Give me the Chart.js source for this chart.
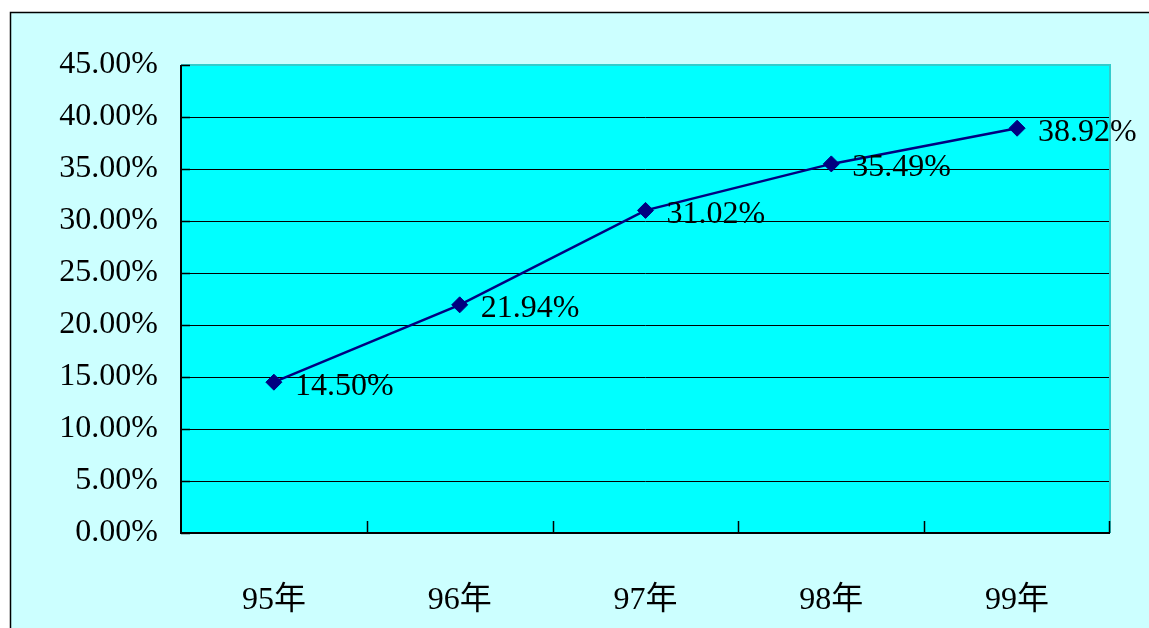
<!DOCTYPE html>
<html>
<head>
<meta charset="utf-8">
<script src="https://cdn.jsdelivr.net/npm/chart.js@4"></script>
<style>
  html, body { margin: 0; padding: 0; background: #ffffff; }
  #wrap { width: 1149px; height: 628px; position: relative; }
</style>
</head>
<body>
<div id="wrap"><canvas id="c" width="1149" height="628"></canvas></div>
<script>
// Years and the share reached in each year (percent)
const years = ['95年', '96年', '97年', '98年', '99年'];
const shares = [14.50, 21.94, 31.02, 35.49, 38.92];
const yTicks = [0, 5, 10, 15, 20, 25, 30, 35, 40, 45];

const FONT = "'Liberation Serif', 'Noto Sans CJK SC', serif";
const FONT_SIZE = 32;
const pct = v => Number(v).toFixed(2) + '%';

// Outer panel with its frame, drawn behind everything
const panelBg = {
  id: 'panelBg',
  beforeDraw(chart) {
    const ctx = chart.ctx;
    ctx.save();
    ctx.fillStyle = '#ffffff';
    ctx.fillRect(0, 0, chart.width, chart.height);
    ctx.fillStyle = '#ccffff';
    ctx.fillRect(10, 12, chart.width, chart.height);
    ctx.strokeStyle = '#000000';
    ctx.lineWidth = 1.5;
    ctx.beginPath();
    ctx.moveTo(10.5, chart.height + 2);
    ctx.lineTo(10.5, 12.5);
    ctx.lineTo(chart.width + 2, 12.5);
    ctx.stroke();
    const a = chart.chartArea;
    ctx.fillStyle = '#00ffff';
    ctx.fillRect(a.left, a.top, a.right - a.left, a.bottom - a.top);
    ctx.restore();
  }
};

// Top/right plot frame, inner tick marks on both axes, and value labels
const overlay = {
  id: 'overlay',
  beforeDatasetsDraw(chart) {
    const ctx = chart.ctx;
    const a = chart.chartArea;
    ctx.save();
    ctx.strokeStyle = '#33cccc';
    ctx.lineWidth = 2;
    ctx.beginPath();
    ctx.moveTo(a.left, a.top);
    ctx.lineTo(a.right, a.top);
    ctx.lineTo(a.right, a.bottom);
    ctx.stroke();

    ctx.strokeStyle = '#000000';
    ctx.lineWidth = 2;
    ctx.beginPath();
    ctx.moveTo(a.left, a.top);
    ctx.lineTo(a.left, a.bottom);
    ctx.lineTo(a.right, a.bottom);
    ctx.stroke();

    // inner tick marks on the category axis, at category boundaries
    const xs = chart.scales.x;
    ctx.lineWidth = 1.5;
    ctx.beginPath();
    for (let i = 1; i < years.length; i++) {
      const px = Math.round((xs.getPixelForValue(i - 1) + xs.getPixelForValue(i)) / 2) + 0.5;
      ctx.moveTo(px, a.bottom);
      ctx.lineTo(px, a.bottom - 12);
    }
    ctx.moveTo(a.right - 0.5, a.bottom);
    ctx.lineTo(a.right - 0.5, a.bottom - 12);
    // inner tick marks on the value axis
    const ys = chart.scales.y;
    yTicks.forEach(v => {
      const py = Math.round(ys.getPixelForValue(v)) + 0.5;
      ctx.moveTo(a.left, py);
      ctx.lineTo(a.left + 9, py);
    });
    ctx.stroke();
    ctx.restore();
  },
  afterDatasetsDraw(chart) {
    const ctx = chart.ctx;
    // value labels to the right of each point
    const meta = chart.getDatasetMeta(0);
    ctx.save();
    ctx.fillStyle = '#000000';
    ctx.font = FONT_SIZE + 'px ' + FONT;
    ctx.textAlign = 'left';
    ctx.textBaseline = 'middle';
    meta.data.forEach((pt, i) => {
      ctx.fillText(pct(shares[i]), pt.x + 21, pt.y + 4);
    });
    ctx.restore();
  }
};

new Chart(document.getElementById('c'), {
  type: 'line',
  data: {
    labels: years,
    datasets: [{
      data: shares,
      borderColor: '#000080',
      backgroundColor: '#000080',
      borderWidth: 2.5,
      pointStyle: 'rectRot',
      pointRadius: 8,
      pointHoverRadius: 8,
      pointBorderWidth: 1,
      tension: 0,
      fill: false
    }]
  },
  options: {
    responsive: false,
    animation: false,
    devicePixelRatio: 1,
    layout: { padding: { left: 0, top: 65, right: 39, bottom: 0 } },
    plugins: {
      legend: { display: false },
      tooltip: { enabled: false },
      title: { display: false }
    },
    scales: {
      x: {
        type: 'category',
        offset: true,
        grid: { display: false, drawTicks: false },
        border: { display: false },
        ticks: {
          color: '#000000',
          font: { family: FONT, size: FONT_SIZE },
          padding: 48,
          maxRotation: 0,
          autoSkip: false
        },
        afterFit(scale) { scale.height = 95; }
      },
      y: {
        min: 0,
        max: 45,
        grid: {
          color: ctx => (ctx.tick && ctx.tick.value === 45) ? 'rgba(0,0,0,0)' : '#000000',
          lineWidth: 1,
          drawTicks: false
        },
        border: { display: false },
        afterBuildTicks(scale) { scale.ticks = yTicks.map(v => ({ value: v })); },
        ticks: {
          color: '#000000',
          font: { family: FONT, size: FONT_SIZE },
          padding: 23,
          callback: v => pct(v)
        },
        afterFit(scale) { scale.width = 181; }
      }
    }
  },
  plugins: [panelBg, overlay]
});
</script>
</body>
</html>
